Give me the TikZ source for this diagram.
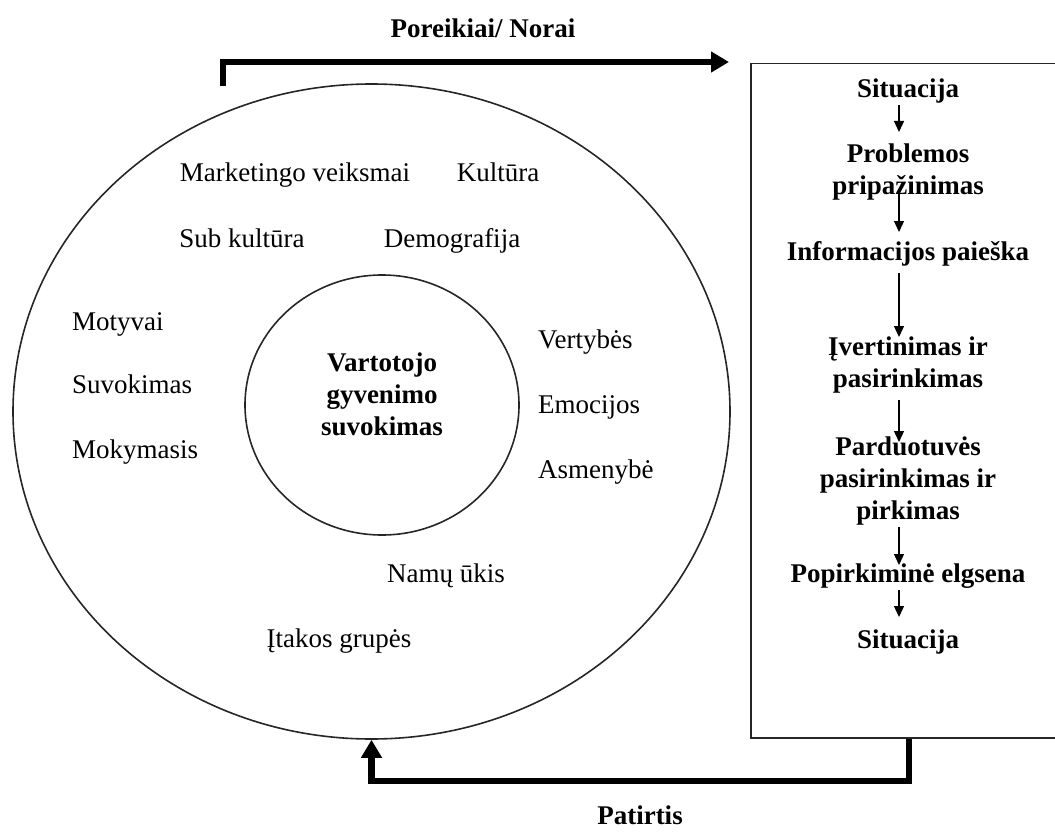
\documentclass[tikz,border=0pt]{standalone}
\usepackage{fontspec}
\setmainfont{Liberation Serif}
\usetikzlibrary{arrows.meta,shapes.geometric,calc}

\tikzset{
  txt/.style={inner sep=0pt, font=\fontsize{27}{32}\selectfont},
  btxt/.style={inner sep=0pt, font=\fontsize{27}{32}\selectfont\bfseries, align=center},
  outline/.style={draw=black!85, line width=1.6pt},
  flow/.style={line width=1.3pt, -{Triangle[length=11pt,width=10pt]}},
  bigarrow/.style={line width=6.5pt, line join=miter, -{Triangle[length=18pt,width=20pt]}}
}

\begin{document}
\begin{tikzpicture}[x=1pt, y=-1pt]
\useasboundingbox (0,0) rectangle (1055,832);
\clip (0,0) rectangle (1055,832);

% influences (outer) and core (inner)
\node[outline, ellipse, minimum width=717pt, minimum height=655pt, inner sep=0pt] (outer) at (371.5,411.5) {};
\node[outline, ellipse, minimum width=274pt, minimum height=260pt, inner sep=0pt] (inner) at (382,405) {};

% decision process frame
\node[draw=black!85, line width=1.5pt, anchor=north west, minimum width=320pt, minimum height=674pt, inner sep=0pt] (box) at (750,63) {};

% factors
\node[txt, anchor=base] (mkt) at (295,182) {Marketingo veiksmai};
\node[txt, anchor=base] (kult) at (498,182) {Kultūra};
\node[txt, anchor=base] (sub) at (242,247) {Sub kultūra};
\node[txt, anchor=base] (demo) at (452,247) {Demografija};
\node[txt, anchor=base west] (mot) at (72,330) {Motyvai};
\node[txt, anchor=base west] (suv) at (72,393) {Suvokimas};
\node[txt, anchor=base west] (mok) at (72,458) {Mokymasis};
\node[txt, anchor=base west] (vert) at (538,348) {Vertybės};
\node[txt, anchor=base west] (emo) at (538,413) {Emocijos};
\node[txt, anchor=base west] (asm) at (538,478) {Asmenybė};
\node[txt, anchor=base] (namu) at (446,582) {Namų ūkis};
\node[txt, anchor=base] (itak) at (339,647) {Įtakos grupės};

% multi-line nodes: the base anchor sits on the last line
\node[btxt, anchor=base] (core) at (382,435) {Vartotojo\\gyvenimo\\suvokimas};

% process steps
\node[btxt, anchor=base] (s1) at (908,98) {Situacija};
\node[btxt, anchor=base] (p1) at (908,194) {Problemos\\pripažinimas};
\node[btxt, anchor=base] (i1) at (908,260) {Informacijos paieška};
\node[btxt, anchor=base] (v1) at (908,387) {Įvertinimas ir\\pasirinkimas};
\node[btxt, anchor=base] (pp) at (908,519) {Parduotuvės\\pasirinkimas ir\\pirkimas};
\node[btxt, anchor=base] (pe) at (908,582) {Popirkiminė elgsena};
\node[btxt, anchor=base] (s2) at (908,648) {Situacija};

\draw[flow] ($(s1.base)+(-9,7)$) -- ($(p1.base)+(-9,-62)$);
\draw[flow] ($(p1.base)+(-9,-4)$) -- ($(i1.base)+(-9,-28)$);
\draw[flow] ($(i1.base)+(-9,13)$) -- ($(v1.base)+(-9,-50)$);
\draw[flow] ($(v1.base)+(-9,13)$) -- ($(pp.base)+(-9,-77)$);
\draw[flow] ($(pp.base)+(-9,8)$) -- ($(pe.base)+(-9,-17)$);
\draw[flow] ($(pe.base)+(-9,8)$) -- ($(s2.base)+(-9,-31)$);

% needs / experience loop
\coordinate (needs) at (223,86);
\coordinate (needtip) at (729,62);
\draw[bigarrow] (needs) |- (needtip);
\node[btxt, anchor=base] (needlbl) at (483,38) {Poreikiai/ Norai};

\draw[bigarrow] ($(box.south west)+(159,0)$) |- ($(outer.south)+(0,41)$) -- (outer.south);
\node[btxt, anchor=base] (explbl) at (640,824) {Patirtis};
\end{tikzpicture}
\end{document}
